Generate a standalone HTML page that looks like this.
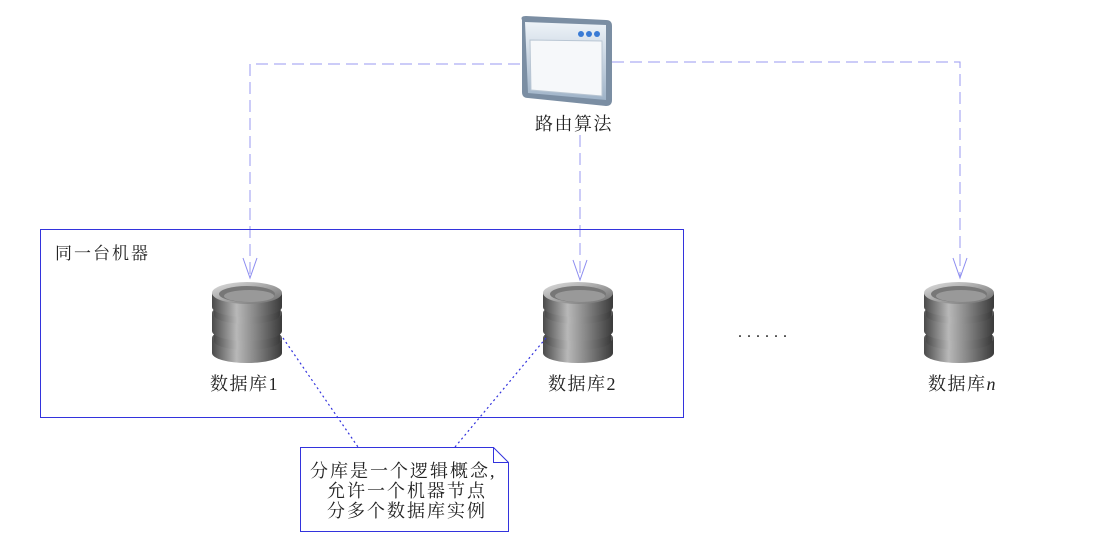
<!DOCTYPE html>
<html><head><meta charset="utf-8"><style>
html,body{margin:0;padding:0;background:#fff;}
svg{display:block;}
text{font-family:"Liberation Serif","Noto Serif CJK SC","Noto Sans CJK SC",serif;fill:#222;}
</style></head><body>
<svg width="1100" height="550" viewBox="0 0 1100 550" xmlns="http://www.w3.org/2000/svg">
<defs>
<linearGradient id="cg" x1="0" x2="1">
<stop offset="0" stop-color="#4a4a4a"/><stop offset="0.35" stop-color="#b8b8b8"/><stop offset="0.6" stop-color="#8a8a8a"/><stop offset="1" stop-color="#3a3a3a"/>
</linearGradient>
<linearGradient id="tg" x1="0" y1="0" x2="1" y2="1">
<stop offset="0" stop-color="#e0e0e0"/><stop offset="1" stop-color="#6a6a6a"/>
</linearGradient>
<linearGradient id="wg" x1="0" y1="0" x2="0" y2="1">
<stop offset="0" stop-color="#eef3f8"/><stop offset="1" stop-color="#9fb3c8"/>
</linearGradient>
<g id="cyl">
<path d="M-35,55 L-35,70 A35,10 0 0 0 35,70 L35,55 Z" fill="url(#cg)"/>
<ellipse cx="0" cy="55" rx="35" ry="10" fill="#555"/>
<path d="M-33,50 L-33,58 A33,9 0 0 0 33,58 L33,50 Z" fill="url(#cg)"/>
<path d="M-35,30 L-35,48 A35,10 0 0 0 35,48 L35,30 Z" fill="url(#cg)"/>
<ellipse cx="0" cy="30" rx="35" ry="10" fill="#555"/>
<path d="M-33,24 L-33,32 A33,9 0 0 0 33,32 L33,24 Z" fill="url(#cg)"/>
<path d="M-35,10 L-35,24 A35,10 0 0 0 35,24 L35,10 Z" fill="url(#cg)"/>
<ellipse cx="0" cy="10" rx="35" ry="11" fill="url(#tg)"/>
<ellipse cx="0" cy="11" rx="28" ry="8" fill="#777"/>
<ellipse cx="2" cy="13" rx="25" ry="6" fill="#999"/>
</g>
</defs>

<g stroke="#9a9af0" stroke-width="1" fill="none" stroke-dasharray="12,6">
<path d="M520,64 L250,64 L250,276"/>
<path d="M580,135 L580,278"/>
<path d="M612,62 L960,62 L960,276"/>
</g>
<g stroke="#8c8cf0" stroke-width="1" fill="none">
<path d="M243,258 L250,278 L257,258"/>
<path d="M573,260 L580,280 L587,260"/>
<path d="M953,258 L960,278 L967,258"/>
</g>

<g>
<path d="M522,20 Q520,16 526,16 L606,20 Q612,20 612,26 L612,100 Q612,106 606,106 L528,98 Q522,98 522,92 Z" fill="#7b8ea3"/>
<path d="M525,22 L606,25 L606,100 L528,93 Z" fill="url(#wg)"/>
<path d="M530,40 L602,41 L602,96 L531,90 Z" fill="#f6f8fa" stroke="#b9c6d3"/>
<circle cx="581" cy="34" r="3" fill="#3a7bd5"/><circle cx="589" cy="34" r="3" fill="#3a7bd5"/><circle cx="597" cy="34" r="3" fill="#3a7bd5"/>
</g>
<text x="535" y="130" font-size="18" letter-spacing="1.5">路由算法</text>

<rect x="40.5" y="229.5" width="643" height="188" fill="none" stroke="#3333dd" stroke-width="1"/>
<text x="55" y="259" font-size="17" letter-spacing="2">同一台机器</text>

<use href="#cyl" x="247" y="283"/>
<use href="#cyl" x="578" y="283"/>
<use href="#cyl" x="959" y="283"/>

<text x="210" y="390" font-size="18" letter-spacing="1.5">数据库1</text>
<text x="548" y="390" font-size="18" letter-spacing="1.5">数据库2</text>
<text x="928" y="390" font-size="18" letter-spacing="1.5">数据库<tspan font-style="italic">n</tspan></text>
<text x="738" y="337" font-size="16" letter-spacing="5">......</text>

<g stroke="#3333dd" stroke-width="1.2" stroke-dasharray="2,3" fill="none">
<path d="M283,338 L358,447"/>
<path d="M546,338 L455,447"/>
</g>

<path d="M300.5,447.5 L493.5,447.5 L508.5,462.5 L508.5,531.5 L300.5,531.5 Z" fill="#fff" stroke="#3333dd"/>
<path d="M493.5,447.5 L493.5,462.5 L508.5,462.5" fill="none" stroke="#3333dd"/>
<text x="310" y="477" font-size="18" letter-spacing="2">分库是一个逻辑概念,</text>
<text x="327" y="497" font-size="18" letter-spacing="2">允许一个机器节点</text>
<text x="327" y="517" font-size="18" letter-spacing="2">分多个数据库实例</text>
</svg>
</body></html>
